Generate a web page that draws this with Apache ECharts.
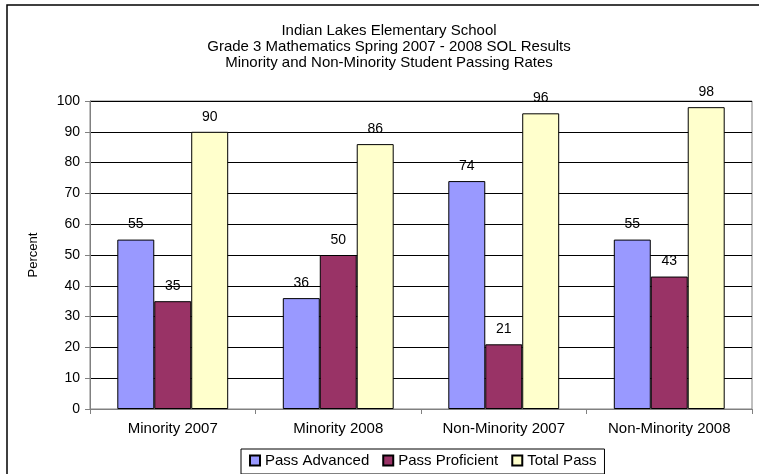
<!DOCTYPE html>
<html>
<head>
<meta charset="utf-8">
<script src="https://cdn.jsdelivr.net/npm/echarts@6/dist/echarts.min.js"></script>
<style>
  html, body { margin: 0; padding: 0; background: #fff; }
  #chart { width: 759px; height: 474px; }
</style>
</head>
<body>
<div id="chart"></div>
<script>
const categories = ['Minority 2007', 'Minority 2008', 'Non-Minority 2007', 'Non-Minority 2008'];
const passAdvanced = [55, 36, 74, 55];
const passProficient = [35, 50, 21, 43];
const totalPass = [90, 86, 96, 98];
const titleLines = [
  'Indian Lakes Elementary School',
  'Grade 3 Mathematics Spring 2007 - 2008 SOL Results',
  'Minority and Non-Minority Student Passing Rates',
];

const font = 'Liberation Sans, Arial, sans-serif';
const chart = echarts.init(document.getElementById('chart'));

const barSeries = (name, data, color) => ({
  name,
  type: 'bar',
  data,
  barGap: '0%',
  barCategoryGap: '33%',
  itemStyle: { color, borderColor: '#000', borderWidth: 1 },
  label: {
    show: true,
    position: 'top',
    distance: 8,
    color: '#000',
    fontFamily: font,
    fontSize: 14,
  },
});

chart.setOption({
  animation: false,
  backgroundColor: '#fff',
  title: {
    text: titleLines.join('\n'),
    left: 384,
    textAlign: 'center',
    top: 18,
    textStyle: { fontFamily: font, fontSize: 15, fontWeight: 'normal', color: '#000', lineHeight: 16 },
  },
  graphic: [{
    type: 'rect',
    shape: { x: 7, y: 5, width: 800, height: 500 },
    style: { fill: 'none', stroke: '#000', lineWidth: 1.5 },
  }],
  legend: {
    bottom: 0,
    left: 241,
    itemWidth: 10,
    itemHeight: 10,
    itemGap: 13,
    icon: 'rect',
    borderColor: '#000',
    borderWidth: 1,
    padding: [4, 8, 6, 8],
    textStyle: { fontFamily: font, fontSize: 15, color: '#000' },
  },
  grid: {
    left: 90,
    right: 7,
    top: 101,
    bottom: 65,
    show: true,
    borderColor: '#808080',
    borderWidth: 1,
    backgroundColor: '#fff',
  },
  xAxis: {
    type: 'category',
    data: categories,
    axisLine: { lineStyle: { color: '#808080' } },
    axisTick: { show: true, length: 5, lineStyle: { color: '#808080' } },
    axisLabel: { color: '#000', fontFamily: font, fontSize: 15, margin: 12 },
  },
  yAxis: {
    type: 'value',
    min: 0,
    max: 100,
    interval: 10,
    name: 'Percent',
    nameLocation: 'middle',
    nameGap: 50,
    nameTextStyle: { color: '#000', fontFamily: font, fontSize: 13 },
    axisLine: { show: true, lineStyle: { color: '#808080' } },
    axisTick: { show: true, length: 5, lineStyle: { color: '#808080' } },
    axisLabel: { color: '#000', fontFamily: font, fontSize: 14, margin: 10 },
    splitLine: { lineStyle: { color: '#000', width: 1 } },
  },
  series: [
    barSeries('Pass Advanced', passAdvanced, '#9999FF'),
    barSeries('Pass Proficient', passProficient, '#993366'),
    barSeries('Total Pass', totalPass, '#FFFFCC'),
  ],
});
</script>
</body>
</html>
